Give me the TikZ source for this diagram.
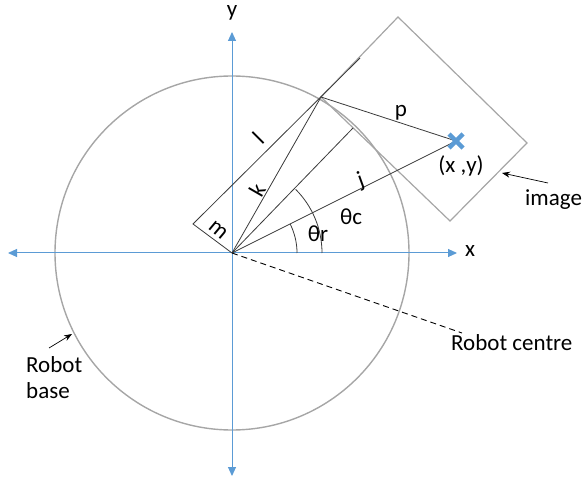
\documentclass[tikz,border=0pt]{standalone}
\usepackage{fontspec}
\setmainfont{Carlito}
\usetikzlibrary{arrows.meta}
\definecolor{axblue}{HTML}{5B9BD5}
\definecolor{lgray}{HTML}{A6A6A6}
\definecolor{dgray}{HTML}{3A3A3A}
\begin{document}
\begin{tikzpicture}[x=1pt,y=-1pt,
  font=\fontsize{23}{26}\selectfont,
  axisline/.style={draw=axblue, line width=1pt, {Triangle[length=9pt,width=8pt]}-{Triangle[length=9pt,width=8pt]}},
  geom/.style={draw=dgray, line width=0.8pt},
  shapeline/.style={draw=lgray, line width=1.4pt},
  pointer/.style={draw=black, line width=0.7pt, -{Stealth[length=8pt,width=6pt]}},
  lbl/.style={inner sep=1pt}]
\useasboundingbox (0,0) rectangle (584,481);
% key points
\coordinate (O) at (232,253);
\coordinate (xl) at (8,253);
\coordinate (xr) at (457,253);
\coordinate (yt) at (232,32);
\coordinate (yb) at (232,476);
\coordinate (P) at (321,97);
\coordinate (T) at (398,17);
\coordinate (R) at (527,143);
\coordinate (B) at (450,221);
\coordinate (M) at (193,224);
\coordinate (L) at (360,58);
\coordinate (Q) at (353,128);
\coordinate (X) at (456,141);
\coordinate (RC) at (462,333);
% robot base circle
\draw[shapeline] (O) circle[radius=177];
% image rectangle
\draw[shapeline, line width=1.2pt] (P) -- (T) -- (R) -- (B) -- cycle;
% axes
\draw[axisline] (xl) -- (xr);
\draw[axisline] (yb) -- (yt);
% geometry lines
\draw[geom] (O) -- (M) -- (L);
\draw[geom] (O) -- (P) -- (X);
\draw[geom] (O) -- (X);
\draw[geom] (O) -- (Q);
\draw[geom] (297,253) arc[start angle=0, end angle=-26.57, radius=65];
\draw[geom] (322,253) arc[start angle=0, end angle=-45, radius=90];
\draw[draw=black, line width=0.9pt, dash pattern=on 6pt off 4pt] (O) -- (RC);
% target cross
\draw[axblue, line width=4.5pt] (449,134) -- (463,148) (449,148) -- (463,134);
% labels
\node[lbl] (ylab) at (232,13) {y};
\node[lbl] (xlab) at (470,251) {x};
\node[lbl, rotate=45] (llab) at (258,138) {l};
\node[lbl, rotate=60] (klab) at (257,190) {k};
\node[lbl, rotate=-40] (mlab) at (218,230) {m};
\node[lbl, rotate=20] (jlab) at (361,181) {j};
\node[lbl] (plab) at (401,113) {p};
\node[lbl] (trlab) at (318,234) {θr};
\node[lbl] (tclab) at (351,217) {θc};
\node[lbl] (xylab) at (461,166) {(x ,y)};
\node[lbl, anchor=north west] (rclab) at (450,333) {Robot centre};
\node[lbl, anchor=north west, align=left] (rblab) at (25,355) {Robot\\base};
\node[lbl, anchor=west] (imlab) at (524,200) {image};
% pointers
\coordinate (rbs) at (49,348);
\coordinate (rbe) at (72,334);
\coordinate (ims) at (548,183);
\coordinate (ime) at (502,173);
\draw[pointer] (rbs) -- (rbe);
\draw[pointer] (ims) -- (ime);
\end{tikzpicture}
\end{document}
